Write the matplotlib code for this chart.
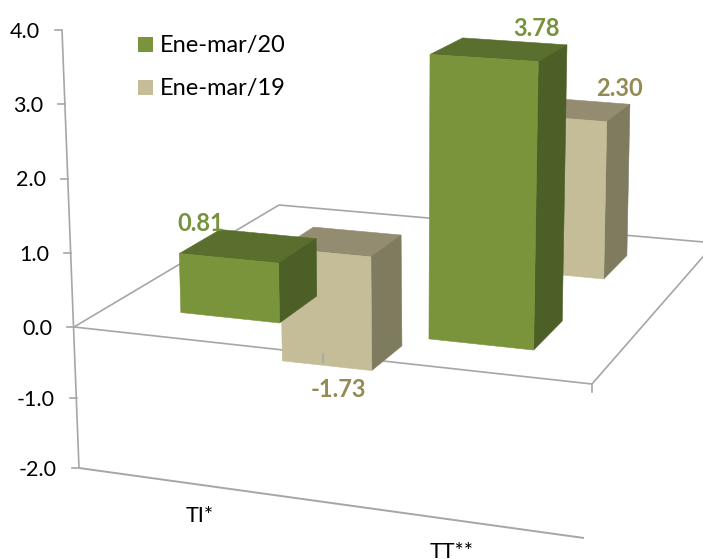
import numpy as np
import matplotlib
matplotlib.use('Agg')
import matplotlib.pyplot as plt
from matplotlib.patches import Polygon, Rectangle

plt.rcParams['font.family'] = ['Lato', 'DejaVu Sans']

# data
categories = ['TI*', 'TT**']
series_names = ['Ene-mar/20', 'Ene-mar/19']
values_20 = [0.81, 3.78]
values_19 = [-1.73, 2.30]
y_ticks = [-2.0, -1.0, 0.0, 1.0, 2.0, 3.0, 4.0]

GREEN = ['#7A943B', '#5A6F2D', '#4C5F26']  # front, top, side
BEIGE = ['#C4BD97', '#938C70', '#7F7B5F']
GREEN_TXT = '#76923C'
BEIGE_TXT = '#948A54'
LINE = '#A6A6A6'

# corners of the box in pixels, z level -> (front left, front right, back left, back right)
CORNERS = {
    -2: [(79, 468), (584, 538), (281, 329), (714, 371)],
    0: [(74, 327), (592, 384), (279, 205), (715, 243)],
    4: [(62, 30), (600, 64), (276, -43), (722, -13)],
}


def level(z0, u, v):
    c = np.array(CORNERS[z0], dtype=float)
    return (1-u)*(1-v)*c[0] + u*(1-v)*c[1] + (1-u)*v*c[2] + u*v*c[3]


def proj(u, v, z):
    # u along the categories, v into the depth, z is the value
    if z >= 0:
        t = z / 4
        return (1-t)*level(0, u, v) + t*level(4, u, v)
    t = -z / 2
    return (1-t)*level(0, u, v) + t*level(-2, u, v)


def box(ax, u0, u1, v0, v1, val, colors, zorder):
    z0, z1 = min(0, val), max(0, val)
    faces = [
        ([(u0, v0, z1), (u1, v0, z1), (u1, v1, z1), (u0, v1, z1)], colors[1]),
        ([(u1, v0, z0), (u1, v1, z0), (u1, v1, z1), (u1, v0, z1)], colors[2]),
        ([(u0, v0, z0), (u1, v0, z0), (u1, v0, z1), (u0, v0, z1)], colors[0]),
    ]
    for pts, col in faces:
        ax.add_patch(Polygon([proj(*p) for p in pts], closed=True, fc=col,
                             ec=col, lw=0.4, zorder=zorder))


def line3d(ax, a, b, zorder=1, lw=1.2):
    pa, pb = proj(*a), proj(*b)
    ax.plot([pa[0], pb[0]], [pa[1], pb[1]], color=LINE, lw=lw, zorder=zorder,
            solid_capstyle='butt')


fig = plt.figure(figsize=(7.03, 5.59), dpi=100)
ax = fig.add_axes([0, 0, 1, 1])
ax.set_xlim(0, 703)
ax.set_ylim(559, 0)
ax.axis('off')

# floor, left axis and bottom line
line3d(ax, (0, 0, 0), (1, 0, 0))
line3d(ax, (1, 0, 0), (1, 1, 0))
line3d(ax, (1, 1, 0), (0, 1, 0))
line3d(ax, (0, 1, 0), (0, 0, 0))
line3d(ax, (0, 0, -2), (0, 0, 4))
line3d(ax, (0, 0, -2), (1, 0, -2), lw=1.4)

for t in y_ticks:
    p = proj(0, 0, t)
    ax.plot([p[0]-7, p[0]], [p[1], p[1]], color=LINE, lw=1.2, zorder=1)
    ax.text(p[0]-22, p[1]+2, f'{t:.1f}', ha='right', va='center', fontsize=15.5, color='black')

# bars, back row first
u_left = [0.139, 0.632]
u_right = [0.335, 0.840]
for i, val in enumerate(values_19):
    box(ax, u_left[i], u_right[i], 0.695, 0.865, val, BEIGE, 3)
for i, val in enumerate(values_20):
    box(ax, u_left[i], u_right[i], 0.18, 0.39, val, GREEN, 4)

# ticks on the front floor edge go over the bars
for u in [0.48, 1.0]:
    p = proj(u, 0, 0)
    ax.plot([p[0], p[0]], [p[1], p[1]+8], color=LINE, lw=1.2, zorder=5)

# data labels
lab_20 = [proj(0.2, 0.39, values_20[0]) + np.array([-49, -9]),
          proj(0.84, 0.39, values_20[1]) + np.array([-30, -16])]
lab_19 = [proj(0.3, 0.695, values_19[0]) + np.array([-17, 21]),
          proj(0.84, 0.865, values_19[1]) + np.array([-10, -16])]
for p, val in zip(lab_20, values_20):
    ax.text(p[0], p[1], f'{val:.2f}', ha='center', va='center', fontsize=17,
            fontweight='bold', color=GREEN_TXT, zorder=6)
for p, val in zip(lab_19, values_19):
    ax.text(p[0], p[1], f'{val:.2f}', ha='center', va='center', fontsize=17,
            fontweight='bold', color=BEIGE_TXT, zorder=6)

# category labels
ax.text(200, 516, categories[0], ha='center', va='center', fontsize=15.5, color='black')
ax.text(452, 558, categories[1], ha='center', va='baseline', fontsize=15.5, color='black')

# legend
for y, col, name in zip([44.5, 87.5], [GREEN[0], BEIGE[0]], series_names):
    ax.add_patch(Rectangle((138, y-7.5), 15, 15, fc=col, ec='none', zorder=6))
    ax.text(160, y+1, name, ha='left', va='center', fontsize=17, color='black', zorder=6)

fig.savefig('out.png', dpi=100)
